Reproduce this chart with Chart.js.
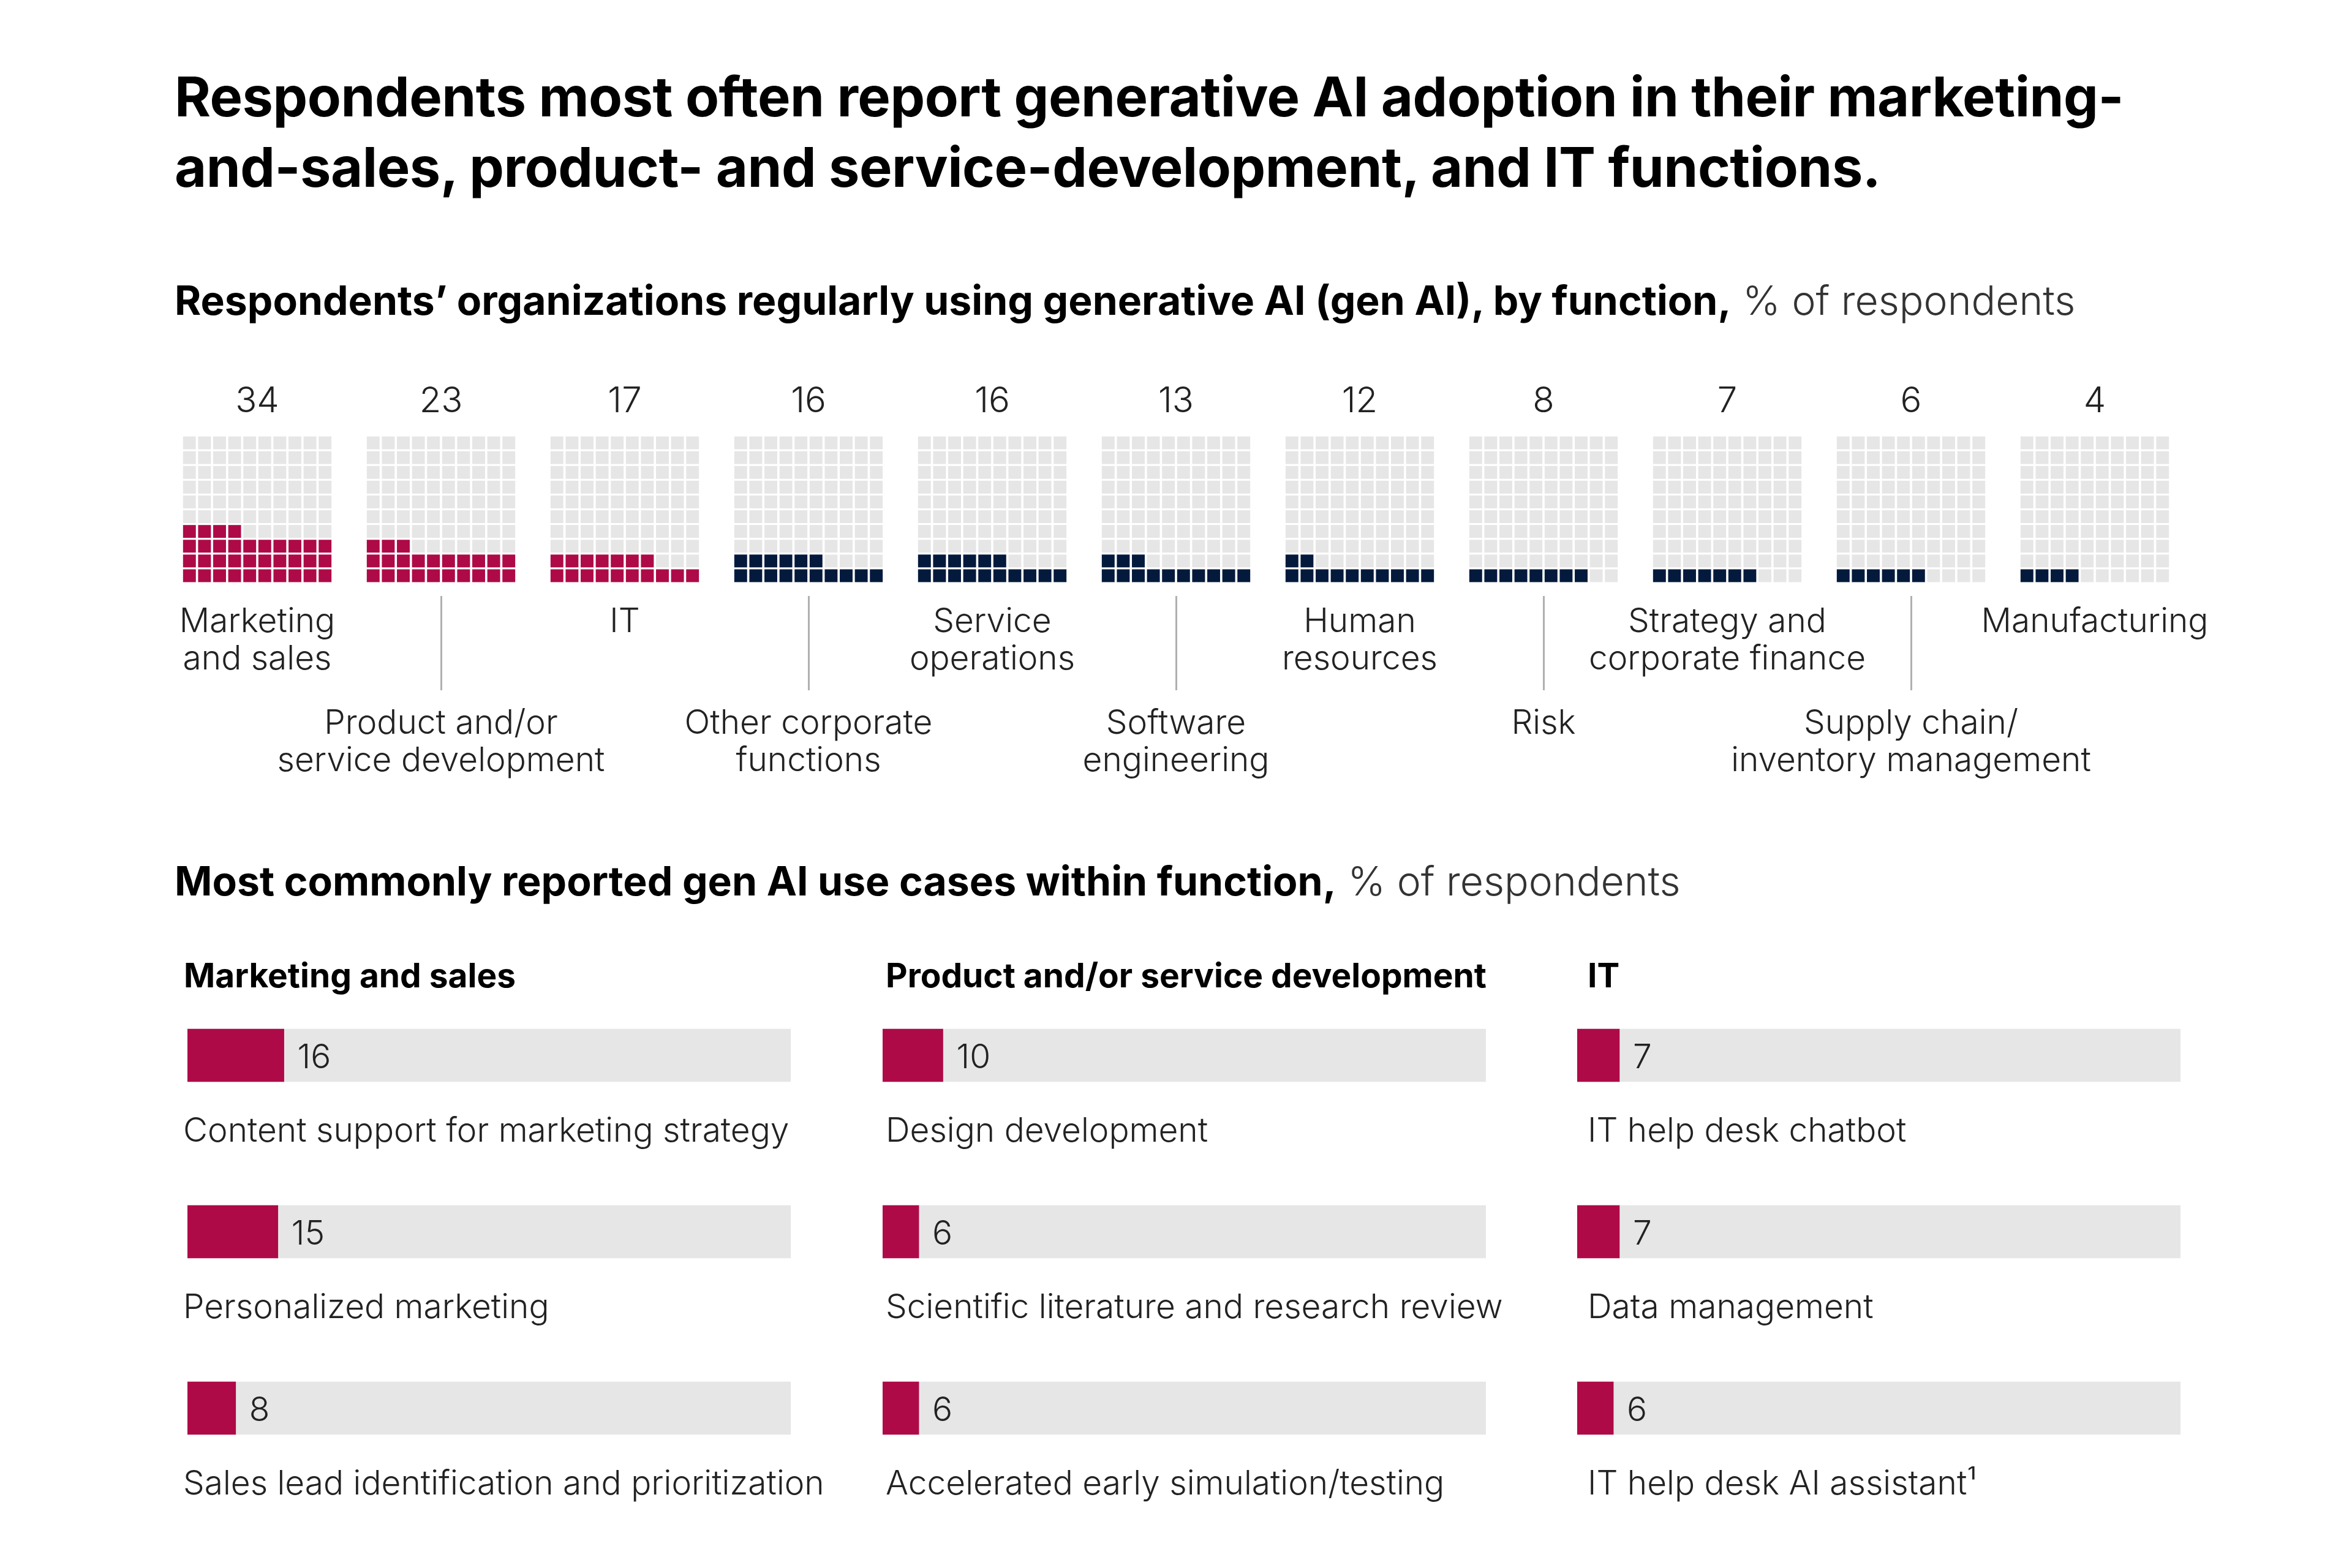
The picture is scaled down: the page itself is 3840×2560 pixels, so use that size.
<!DOCTYPE html>
<html>
<head>
<meta charset="utf-8">
<script src="https://cdn.jsdelivr.net/npm/chart.js@4.4.1/dist/chart.umd.min.js"></script>
<style>
  html, body { margin: 0; padding: 0; background: #fff; }
  body { width: 3840px; height: 2560px; position: relative; overflow: hidden;
         font-family: Inter, "Noto Sans", sans-serif; color: #000; }
  .abs { position: absolute; }
  #title { left: 285px; top: 100px; font-size: 90px; font-weight: 700; line-height: 115px; letter-spacing: -0.5px; }
  .sub { font-size: 66px; line-height: 80px; white-space: nowrap; }
  .sub b { font-weight: 700; }
  .sub span { font-weight: 300; color: #333; }
  #sub1 { left: 285px; top: 450px; }
  #sub2 { left: 285px; top: 1398px; }
  .num { width: 300px; text-align: center; font-size: 58px; font-weight: 300; line-height: 70px; color: #222; }
  .flabel { width: 700px; text-align: center; font-size: 55px; font-weight: 300; line-height: 61px; color: #222; white-space: nowrap; }
  .tick { width: 3px; background: #b0b0b0; }
  .colhead { font-size: 55px; font-weight: 700; line-height: 70px; white-space: nowrap; }
</style>
</head>
<body>
<div id="title" class="abs">Respondents most often report generative AI adoption in their marketing-<br>and-sales, product- and service-development, and IT functions.</div>
<div id="sub1" class="abs sub"><b>Respondents’ organizations regularly using generative AI (gen AI), by function,</b><span> % of respondents</span></div>
<div id="sub2" class="abs sub"><b>Most commonly reported gen AI use cases within function,</b><span> % of respondents</span></div>
<div id="waffles"></div>
<div id="usecases"></div>

<script>
// --- data ---
const functionLabels = [
  ["Marketing", "and sales"],
  ["Product and/or", "service development"],
  ["IT"],
  ["Other corporate", "functions"],
  ["Service", "operations"],
  ["Software", "engineering"],
  ["Human", "resources"],
  ["Risk"],
  ["Strategy and", "corporate finance"],
  ["Supply chain/", "inventory management"],
  ["Manufacturing"]
];
const adoptionShare = [34, 23, 17, 16, 16, 13, 12, 8, 7, 6, 4];
const highlightedFunctions = 3;

const useCaseGroups = ["Marketing and sales", "Product and/or service development", "IT"];
const marketingCases = ["Content support for marketing strategy", "Personalized marketing", "Sales lead identification and prioritization"];
const marketingValues = [16, 15, 8];
const productCases = ["Design development", "Scientific literature and research review", "Accelerated early simulation/testing"];
const productValues = [10, 6, 6];
const itCases = ["IT help desk chatbot", "Data management", "IT help desk AI assistant¹"];
const itValues = [7, 7, 6];
const scaleMax = 100;

// --- styles ---
const CRIMSON = "#ae0a48";
const NAVY = "#041a3c";
const GREY = "#e6e6e6";
const TEXT = "#222";
const FONT = "Inter, 'Noto Sans', sans-serif";

// --- waffle row ---
const waffleLeft = 297, wafflePitch = 300, waffleTop = 711, waffleW = 246, waffleH = 241;
const wrap = document.getElementById("waffles");

adoptionShare.forEach((value, k) => {
  const left = waffleLeft + k * wafflePitch;
  const center = left + waffleW / 2;

  const num = document.createElement("div");
  num.className = "abs num";
  num.style.left = (center - 150) + "px";
  num.style.top = "617px";
  num.textContent = value;
  wrap.appendChild(num);

  const box = document.createElement("canvas");
  box.className = "abs";
  box.width = waffleW; box.height = waffleH;
  box.style.left = left + "px"; box.style.top = waffleTop + "px";
  wrap.appendChild(box);

  const fill = k < highlightedFunctions ? CRIMSON : NAVY;
  const cells = [], colors = [];
  for (let i = 0; i < 100; i++) {
    cells.push({ x: (i % 10) + 0.5, y: Math.floor(i / 10) + 0.5 });
    colors.push(i < value ? fill : GREY);
  }
  new Chart(box, {
    type: "scatter",
    data: { datasets: [{
      data: cells,
      pointStyle: "rect",
      pointRadius: 14.8,
      pointBorderWidth: 0,
      pointBackgroundColor: colors,
    }] },
    options: {
      responsive: false, animation: false, events: [],
      layout: { autoPadding: false, padding: 0 },
      scales: {
        x: { type: "linear", min: 0, max: 10, display: false },
        y: { type: "linear", min: 0, max: 10, display: false }
      },
      plugins: { legend: { display: false }, tooltip: { enabled: false } }
    }
  });

  const lower = k % 2 === 1;
  const lab = document.createElement("div");
  lab.className = "abs flabel";
  lab.style.left = (center - 350) + "px";
  lab.style.top = (lower ? 1148 : 982) + "px";
  lab.innerHTML = functionLabels[k].join("<br>");
  wrap.appendChild(lab);

  if (lower) {
    const t = document.createElement("div");
    t.className = "abs tick";
    t.style.left = (center - 1.5) + "px";
    t.style.top = "973px";
    t.style.height = "154px";
    wrap.appendChild(t);
  }
});

// --- use case bars ---
const groups = [
  { cases: marketingCases, values: marketingValues, barLeft: 306, headLeft: 300, labelShift: -7 },
  { cases: productCases, values: productValues, barLeft: 1441, headLeft: 1446, labelShift: 5 },
  { cases: itCases, values: itValues, barLeft: 2575, headLeft: 2592, labelShift: 17 }
];
const uc = document.getElementById("usecases");
const padL = 20, barSpan = 985, padR = 130, rowsH = 864, padB = 120, chartTop = 1579;

const caseLabels = {
  id: "caseLabels",
  afterDatasetsDraw(chart, args, opts) {
    const { ctx, data } = chart;
    const meta = chart.getDatasetMeta(0);
    ctx.save();
    ctx.fillStyle = TEXT;
    ctx.font = "300 55px " + FONT;
    ctx.textBaseline = "middle";
    ctx.textAlign = "left";
    meta.data.forEach((bar, i) => {
      ctx.fillText(String(data.datasets[0].data[i]), bar.x + 22, bar.y + 4);
      ctx.fillText(data.labels[i], chart.chartArea.left + opts.shift, bar.y + 124);
    });
    ctx.restore();
  }
};

groups.forEach((g, j) => {
  const head = document.createElement("div");
  head.className = "abs colhead";
  head.style.left = g.headLeft + "px";
  head.style.top = "1557px";
  head.textContent = useCaseGroups[j];
  uc.appendChild(head);

  const cv = document.createElement("canvas");
  cv.className = "abs";
  cv.width = padL + barSpan + padR;
  cv.height = rowsH + padB;
  cv.style.left = (g.barLeft - padL) + "px";
  cv.style.top = chartTop + "px";
  uc.appendChild(cv);

  new Chart(cv, {
    type: "bar",
    data: {
      labels: g.cases,
      datasets: [
        { data: g.values, backgroundColor: CRIMSON, barThickness: 86, grouped: false, order: 0 },
        { data: g.values.map(() => scaleMax), backgroundColor: GREY, barThickness: 86, grouped: false, order: 1 }
      ]
    },
    options: {
      indexAxis: "y", responsive: false, animation: false, events: [],
      layout: { autoPadding: false, padding: { left: padL, right: padR, top: 0, bottom: padB } },
      scales: {
        x: { min: 0, max: scaleMax, display: false },
        y: { display: false }
      },
      plugins: { legend: { display: false }, tooltip: { enabled: false }, caseLabels: { shift: g.labelShift } }
    },
    plugins: [caseLabels]
  });
});
</script>
</body>
</html>
